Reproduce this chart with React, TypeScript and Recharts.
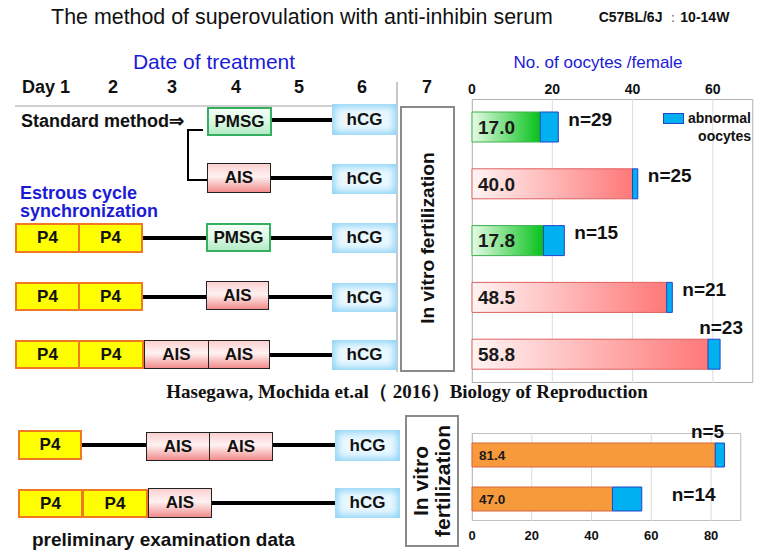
import React from "react"
import { Bar, BarChart, CartesianGrid, Cell, LabelList, XAxis, YAxis } from "recharts"

// main study (Hasegawa, Mochida et al. 2016)
const topGroups = ["Standard PMSG", "Standard AIS", "P4 + PMSG", "P4 + AIS", "P4 + AIS x2"]
const topNormal = [17.0, 40.0, 17.8, 48.5, 58.8]
const topAbnormal = [4.5, 1.3, 5.2, 1.4, 3.0]
const topN = [29, 25, 15, 21, 23]
const topKind = ["pmsg", "ais", "pmsg", "ais", "ais"]
const topTicks = [0, 20, 40, 60]

// preliminary examination
const bottomGroups = ["P4 + AIS x2", "P4 x2 + AIS"]
const bottomNormal = [81.4, 47.0]
const bottomAbnormal = [3.1, 9.8]
const bottomN = [5, 14]
const bottomTicks = [0, 20, 40, 60, 80]

const dayLabels = ["Day 1", "2", "3", "4", "5", "6", "7"]

const topData = topGroups.map((name, i) => ({
  name,
  normal: topNormal[i],
  abnormal: topAbnormal[i],
  n: topN[i],
  kind: topKind[i],
}))

const bottomData = bottomGroups.map((name, i) => ({
  name,
  normal: bottomNormal[i],
  abnormal: bottomAbnormal[i],
  n: bottomN[i],
  kind: "orange",
}))

const SANS = "'Liberation Sans', Arial, sans-serif"

const fills: Record<string, string> = {
  pmsg: "url(#gradGreen)",
  ais: "url(#gradRed)",
  orange: "#f79a3c",
}
const strokes: Record<string, string> = {
  pmsg: "#3cb04a",
  ais: "#e06060",
  orange: "#d8643a",
}

type NLabelOpts = { plotRight: number; gap: number; aboveDx: number; fontSize: number }

const makeNLabel = (data: any[], opts: NLabelOpts) => (props: any) => {
  const { x, y, width, index } = props
  const end = x + width
  const text = `n=${data[index].n}`
  const textW = text.length * opts.fontSize * 0.55
  if (end + opts.gap + textW <= opts.plotRight) {
    return (
      <text x={end + opts.gap} y={y + 7} fontSize={opts.fontSize} fontWeight="bold" fontFamily={SANS}
        fill="#111" dominantBaseline="central">
        {text}
      </text>
    )
  }
  return (
    <text x={end + opts.aboveDx} y={y - 12} fontSize={opts.fontSize} fontWeight="bold" fontFamily={SANS}
      fill="#111" textAnchor="middle" dominantBaseline="central">
      {text}
    </text>
  )
}

const T = ({ x, y, size = 18, bold = true, color = "#111", anchor = "start", family = SANS, lh = 1.1, children }: any) => (
  <div
    style={{
      position: "absolute",
      left: x,
      top: y,
      transform: `translate(${anchor === "middle" ? "-50%" : anchor === "end" ? "-100%" : "0"}, -50%)`,
      fontSize: size,
      fontWeight: bold ? "bold" : "normal",
      color,
      fontFamily: family,
      whiteSpace: "nowrap",
      lineHeight: lh,
      textAlign: anchor === "end" ? "right" : "left",
    }}
  >
    {children}
  </div>
)

const boxStyles: Record<string, React.CSSProperties> = {
  p4: { background: "#ffff00", border: "2px solid #f07a22" },
  pmsg: { background: "linear-gradient(#f4fff7, #d8f7e2 55%, #b2ecc6)", border: "2px solid #35b060" },
  ais: { background: "linear-gradient(#fbd0d0, #fff2f2 45%, #f28c8c)", border: "1.5px solid #222" },
  hcg: { background: "#e9f8ff", boxShadow: "inset 0 0 7px 3px #8fd4f6" },
}

const Box = ({ x, y, w, h, kind, label }: any) => (
  <div
    style={{
      position: "absolute",
      left: x,
      top: y,
      width: w,
      height: h,
      boxSizing: "border-box",
      display: "flex",
      alignItems: "center",
      justifyContent: "center",
      fontFamily: SANS,
      fontWeight: "bold",
      fontSize: 17,
      color: "#111",
      ...boxStyles[kind],
    }}
  >
    {label}
  </div>
)

const HLine = ({ x1, x2, y, t = 4 }: any) => (
  <div style={{ position: "absolute", left: x1, top: y - t / 2, width: x2 - x1, height: t, background: "#000" }} />
)

const VLine = ({ x, y1, y2, t = 2, color = "#000" }: any) => (
  <div style={{ position: "absolute", left: x - t / 2, top: y1, width: t, height: y2 - y1, background: color }} />
)

const dayX = [46, 113, 172, 236, 299, 362, 427]

export default function App() {
  const topNLabel = makeNLabel(topData, { plotRight: 313, gap: 10, aboveDx: 1, fontSize: 19 })
  const bottomNLabel = makeNLabel(bottomData, { plotRight: 301, gap: 30, aboveDx: -17, fontSize: 19 })

  return (
    <div style={{ position: "absolute", left: 0, top: 0, width: 767, height: 559, background: "#fff", overflow: "hidden" }}>
      <svg width="0" height="0" style={{ position: "absolute" }}>
        <defs>
          <linearGradient id="gradGreen" x1="0" y1="0" x2="1" y2="0">
            <stop offset="0%" stopColor="#e6fbe6" />
            <stop offset="100%" stopColor="#06c21a" />
          </linearGradient>
          <linearGradient id="gradRed" x1="0" y1="0" x2="1" y2="0">
            <stop offset="0%" stopColor="#fff4f4" />
            <stop offset="100%" stopColor="#ff7878" />
          </linearGradient>
        </defs>
      </svg>

      {/* titles */}
      <T x={302} y={18} size={21.4} bold={false} anchor="middle">
        The method of superovulation with anti-inhibin serum
      </T>
      <T x={664} y={18} size={14} anchor="middle">
        C57BL/6J <span style={{ fontWeight: "normal", color: "#777" }}>：</span>10-14W
      </T>
      <T x={214} y={62} size={21} bold={false} color="#1b1bd6" anchor="middle">
        Date of treatment
      </T>
      <T x={598} y={63} size={17} bold={false} color="#1b1bd6" anchor="middle">
        No. of oocytes /female
      </T>

      {dayLabels.map((d, i) => (
        <T key={d} x={dayX[i]} y={88} size={18} anchor="middle">
          {d}
        </T>
      ))}
      <div style={{ position: "absolute", left: 15, top: 105, width: 382, height: 2, background: "#d0d0d0" }} />
      <VLine x={397} y1={82} y2={372} t={1.5} color="#c8c8c8" />

      {/* standard method */}
      <T x={21} y={122} size={18}>Standard method⇒</T>
      <Box x={207} y={107} w={65} h={29} kind="pmsg" label="PMSG" />
      <HLine x1={272} x2={332} y={120} />
      <Box x={332} y={104} w={65} h={31} kind="hcg" label="hCG" />
      <div style={{ position: "absolute", left: 187, top: 129, width: 16, height: 2, background: "#000" }} />
      <VLine x={188} y1={129} y2={180} />
      <div style={{ position: "absolute", left: 187, top: 179, width: 20, height: 2, background: "#000" }} />
      <Box x={207} y={163} w={64} h={30} kind="ais" label="AIS" />
      <HLine x1={271} x2={332} y={178} />
      <Box x={332} y={164} w={65} h={30} kind="hcg" label="hCG" />

      {/* estrous cycle synchronization */}
      <T x={20} y={202} size={18} color="#1b1bd6" lh={1}>
        Estrous cycle
        <br />
        synchronization
      </T>

      <Box x={15} y={223} w={65} h={30} kind="p4" label="P4" />
      <Box x={78} y={223} w={65} h={30} kind="p4" label="P4" />
      <HLine x1={143} x2={206} y={238} />
      <Box x={206} y={223} w={65} h={29} kind="pmsg" label="PMSG" />
      <HLine x1={271} x2={332} y={238} />
      <Box x={332} y={223} w={65} h={30} kind="hcg" label="hCG" />

      <Box x={15} y={282} w={65} h={29} kind="p4" label="P4" />
      <Box x={78} y={282} w={65} h={29} kind="p4" label="P4" />
      <HLine x1={143} x2={206} y={297} />
      <Box x={206} y={281} w={63} h={29} kind="ais" label="AIS" />
      <HLine x1={269} x2={332} y={297} />
      <Box x={332} y={283} w={65} h={29} kind="hcg" label="hCG" />

      <Box x={15} y={340} w={65} h={29} kind="p4" label="P4" />
      <Box x={78} y={340} w={66} h={29} kind="p4" label="P4" />
      <Box x={144} y={340} w={65} h={29} kind="ais" label="AIS" />
      <Box x={208} y={340} w={62} h={29} kind="ais" label="AIS" />
      <HLine x1={270} x2={332} y={355} />
      <Box x={332} y={340} w={65} h={30} kind="hcg" label="hCG" />

      {/* IVF box (main) */}
      <div style={{ position: "absolute", left: 400, top: 106, width: 55, height: 266, boxSizing: "border-box", border: "2px solid #8a8a8a", background: "#fff" }} />
      <div style={{ position: "absolute", left: 427.5, top: 238, transform: "translate(-50%, -50%) rotate(-90deg)", fontFamily: SANS, fontWeight: "bold", fontSize: 19.2, whiteSpace: "nowrap", color: "#111" }}>
        In vitro fertilization
      </div>

      <T x={407} y={392} size={19} family="'Liberation Serif', 'Times New Roman', serif" anchor="middle">
        Hasegawa, Mochida et.al（ 2016）Biology of Reproduction
      </T>

      {/* preliminary rows */}
      <Box x={18} y={430} w={64} h={30} kind="p4" label="P4" />
      <HLine x1={82} x2={146} y={445} />
      <Box x={146} y={432} w={64} h={29} kind="ais" label="AIS" />
      <Box x={209} y={432} w={64} h={29} kind="ais" label="AIS" />
      <HLine x1={273} x2={335} y={445} />
      <Box x={335} y={430} w={65} h={31} kind="hcg" label="hCG" />

      <Box x={18} y={489} w={65} h={29} kind="p4" label="P4" />
      <Box x={82} y={489} w={66} h={29} kind="p4" label="P4" />
      <Box x={148} y={488} w={64} h={30} kind="ais" label="AIS" />
      <HLine x1={212} x2={335} y={503} />
      <Box x={335} y={488} w={65} h={30} kind="hcg" label="hCG" />

      <T x={32} y={540} size={19}>preliminary examination data</T>

      <div style={{ position: "absolute", left: 405, top: 415, width: 54, height: 132, boxSizing: "border-box", border: "2px solid #8a8a8a", background: "#fff" }} />
      <div style={{ position: "absolute", left: 432, top: 481, transform: "translate(-50%, -50%) rotate(-90deg)", fontFamily: SANS, fontWeight: "bold", fontSize: 21, whiteSpace: "nowrap", color: "#111", textAlign: "center", lineHeight: 1.05 }}>
        In vitro
        <br />
        fertilization
      </div>

      {/* main chart */}
      <div style={{ position: "absolute", left: 472, top: 99, width: 281, height: 284, boxSizing: "border-box", border: "1px solid #b0b0b0", borderLeft: "1.5px solid #a0a0a0" }} />
      <div style={{ position: "absolute", left: 440, top: 56 }}>
        <BarChart width={327} height={330} data={topData} layout="vertical" margin={{ top: 13, right: 14, bottom: 3, left: 32 }}>
          <CartesianGrid horizontal={false} stroke="#dcdcdc" />
          <XAxis type="number" orientation="top" domain={[0, 70]} ticks={topTicks} height={30} axisLine={false} tickLine={false}
            tickSize={3} tick={{ fontSize: 14, fontWeight: "bold", fill: "#111", fontFamily: SANS }} />
          <YAxis type="category" dataKey="name" hide />
          <Bar dataKey="normal" stackId="a" barSize={30} isAnimationActive={false}>
            {topData.map((d, i) => (
              <Cell key={i} fill={fills[d.kind]} stroke={strokes[d.kind]} strokeWidth={1} />
            ))}
            <LabelList dataKey="normal" position="insideLeft" offset={6} formatter={(v: any) => Number(v).toFixed(1)}
              style={{ fontSize: 19, fontWeight: "bold", fill: "#1a1a1a", fontFamily: SANS }} />
          </Bar>
          <Bar dataKey="abnormal" stackId="a" barSize={30} fill="#00b0f0" stroke="#2344c8" strokeWidth={1} isAnimationActive={false}>
            <LabelList dataKey="n" content={topNLabel} />
          </Bar>
        </BarChart>
      </div>
      {/* legend */}
      <div style={{ position: "absolute", left: 663, top: 113, width: 21, height: 11, background: "#00b0f0", border: "1px solid #2344c8", boxSizing: "border-box" }} />
      <T x={751} y={127} size={14} anchor="end" lh={1.25}>
        abnormal
        <br />
        oocytes
      </T>

      {/* preliminary chart */}
      <div style={{ position: "absolute", left: 472, top: 433, width: 269, height: 88, boxSizing: "border-box", border: "1px solid #c0c0c0", borderLeft: "1.5px solid #a0a0a0" }} />
      <div style={{ position: "absolute", left: 440, top: 420 }}>
        <BarChart width={327} height={139} data={bottomData} layout="vertical" margin={{ top: 13, right: 26, bottom: 8, left: 32 }}>
          <CartesianGrid horizontal={false} stroke="#dcdcdc" />
          <XAxis type="number" orientation="bottom" domain={[0, 90]} ticks={bottomTicks} height={30} axisLine={false} tickLine={false}
            tickSize={8} tick={{ fontSize: 13, fontWeight: "bold", fill: "#111", fontFamily: SANS }} />
          <YAxis type="category" dataKey="name" hide />
          <Bar dataKey="normal" stackId="a" barSize={24} isAnimationActive={false}>
            {bottomData.map((d, i) => (
              <Cell key={i} fill={fills[d.kind]} stroke={strokes[d.kind]} strokeWidth={1} />
            ))}
            <LabelList dataKey="normal" position="insideLeft" offset={7} formatter={(v: any) => Number(v).toFixed(1)}
              style={{ fontSize: 13.5, fontWeight: "bold", fill: "#1a1a1a", fontFamily: SANS }} />
          </Bar>
          <Bar dataKey="abnormal" stackId="a" barSize={24} fill="#00b0f0" stroke="#2344c8" strokeWidth={1} isAnimationActive={false}>
            <LabelList dataKey="n" content={bottomNLabel} />
          </Bar>
        </BarChart>
      </div>
    </div>
  )
}
